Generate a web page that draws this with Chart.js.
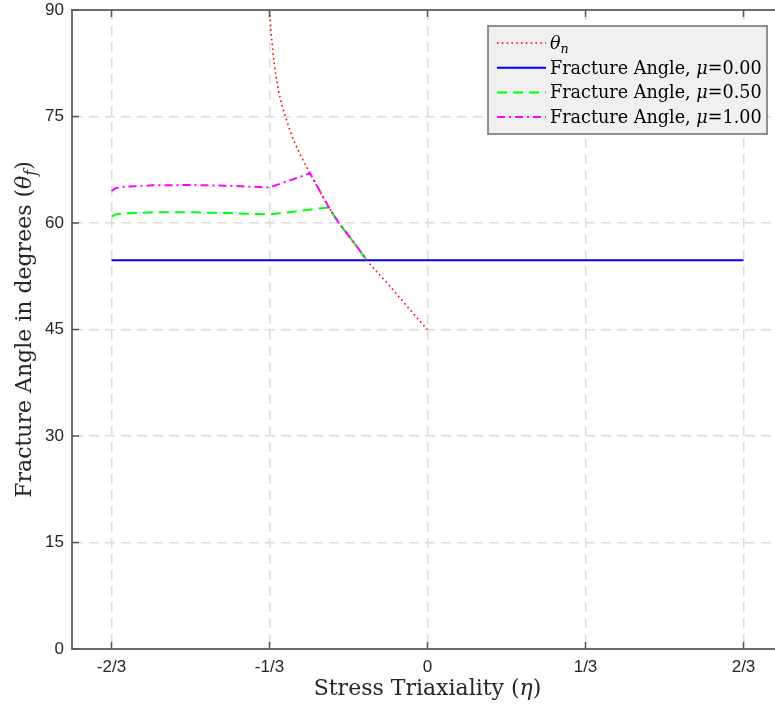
<!DOCTYPE html>
<html>
<head>
<meta charset="utf-8">
<script src="https://cdn.jsdelivr.net/npm/chart.js@4.4.1/dist/chart.umd.min.js"></script>
<style>
html, body { margin: 0; padding: 0; background: #fff; overflow: hidden; }
#wrap { position: relative; width: 775px; height: 704px; }
</style>
</head>
<body>
<div id="wrap"><canvas id="graphe" width="775" height="704"></canvas></div>
<script>
// Axes (le cadre de droite sort de l'image dans l'original)
var xMin = -0.75, xMax = 0.7331;
var xTickValues = [-2/3, -1/3, 0, 1/3, 2/3];
var xTickLabels = ['-2/3', '-1/3', '0', '1/3', '2/3'];
var yTickValues = [0, 15, 30, 45, 60, 75, 90];
var xTitle = 'Stress Triaxiality (η)';
var yTitle = 'Fracture Angle in degrees (θ_f)';

// Series
var thetaN_eta = [-0.3333, -0.3302, -0.3266, -0.3196, -0.3097, -0.2970, -0.2831, -0.2654, -0.2479, -0.2089, -0.1870, -0.1582, -0.1272, -0.0780, -0.0359, 0];
var thetaN_deg = [90, 87.0, 84.4, 80.6, 77.3, 74.4, 71.8, 69.2, 67.0, 62.3, 60.0, 57.5, 54.7, 51.0, 47.7, 45.0];

var mu0_eta = [-2/3, 2/3];
var mu0_deg = [54.74, 54.74];

var mu05_eta = [-2/3, -0.658, -0.64, -0.58, -0.50, -0.42, -1/3, -0.2089, -0.1870, -0.1582, -0.1272];
var mu05_deg = [60.9, 61.2, 61.35, 61.5, 61.5, 61.4, 61.2, 62.2, 60.0, 57.5, 54.7];

var mu1_eta = [-2/3, -0.658, -0.64, -0.58, -0.50, -0.42, -1/3, -0.2479, -0.2089, -0.1870, -0.1582, -0.1272];
var mu1_deg = [64.5, 64.9, 65.1, 65.3, 65.35, 65.25, 65.0, 67.0, 62.3, 60.0, 57.5, 54.7];

var seriesLabels = ['θ_n', 'Fracture Angle, μ=0.00', 'Fracture Angle, μ=0.50', 'Fracture Angle, μ=1.00'];

var S_serif = '"DejaVu Serif", "Liberation Serif", serif';
var GREEK = 'θμη';

function F_zip(V_x, V_y){
    var V_out = [];
    for (var i = 0; i < V_x.length; i++){ V_out.push({x: V_x[i], y: V_y[i]}); }
    return V_out;
}

// Texte avec lettres grecques en italique et indice apres '_'
function F_richParts(S_txt){
    var V_parts = [];
    for (var i = 0; i < S_txt.length; i++){
        var c = S_txt[i];
        if (c === '_'){
            V_parts.push({t: S_txt[i + 1], it: true, sub: true});
            i++;
        } else if (GREEK.indexOf(c) >= 0){
            V_parts.push({t: c, it: true, sub: false});
        } else {
            var last = V_parts[V_parts.length - 1];
            if (last && !last.it) last.t += c;
            else V_parts.push({t: c, it: false, sub: false});
        }
    }
    return V_parts;
}

function F_font(O_p, I_size){
    var I_s = O_p.sub ? I_size * 0.72 : I_size;
    return (O_p.it ? 'italic ' : '') + I_s + 'px ' + S_serif;
}

function F_drawRich(ctx, S_txt, x, y, I_size, S_align){
    var V_parts = F_richParts(S_txt);
    var I_w = 0;
    V_parts.forEach(function(p){ ctx.font = F_font(p, I_size); p.w = ctx.measureText(p.t).width; I_w += p.w; });
    var I_x = S_align === 'center' ? x - I_w / 2 : x;
    ctx.textBaseline = 'alphabetic';
    ctx.textAlign = 'left';
    V_parts.forEach(function(p){
        ctx.font = F_font(p, I_size);
        ctx.fillText(p.t, I_x, y + (p.sub ? I_size * 0.22 : 0));
        I_x += p.w;
    });
}

var P_cadre = {
    id: 'cadre',
    afterDatasetsDraw: function(chart){
        var ctx = chart.ctx, a = chart.chartArea;
        var sx = chart.scales.x, sy = chart.scales.y;
        ctx.save();
        ctx.strokeStyle = '#6e6e6e';
        ctx.lineWidth = 2;
        ctx.beginPath();
        ctx.moveTo(a.left, a.top); ctx.lineTo(a.right, a.top);
        ctx.stroke();

        // petites graduations vers l'interieur
        ctx.lineWidth = 1.5;
        ctx.strokeStyle = '#555';
        ctx.beginPath();
        xTickValues.forEach(function(v){
            var px = sx.getPixelForValue(v);
            ctx.moveTo(px, a.bottom); ctx.lineTo(px, a.bottom - 7);
            ctx.moveTo(px, a.top); ctx.lineTo(px, a.top + 7);
        });
        yTickValues.forEach(function(v){
            var py = sy.getPixelForValue(v);
            ctx.moveTo(a.left, py); ctx.lineTo(a.left + 7, py);
        });
        ctx.stroke();
        ctx.restore();
    },
    afterDraw: function(chart){
        var ctx = chart.ctx, a = chart.chartArea;
        ctx.save();
        ctx.fillStyle = '#262626';

        // titres des axes
        F_drawRich(ctx, xTitle, chart.scales.x.getPixelForValue(0), 695, 22, 'center');
        ctx.save();
        ctx.translate(31, (a.top + a.bottom) / 2);
        ctx.rotate(-Math.PI / 2);
        F_drawRich(ctx, yTitle, 0, 0, 22, 'center');
        ctx.restore();

        // legende
        var I_lx = 488, I_ly = 26, I_lw = 279, I_lh = 108;
        ctx.fillStyle = '#f0f0f0';
        ctx.fillRect(I_lx, I_ly, I_lw, I_lh);
        ctx.strokeStyle = '#6e6e6e';
        ctx.lineWidth = 1.5;
        ctx.strokeRect(I_lx, I_ly, I_lw, I_lh);

        chart.data.datasets.forEach(function(ds, i){
            var I_y = 43 + i * 24.7;
            ctx.save();
            ctx.strokeStyle = ds.borderColor;
            ctx.lineWidth = ds.borderWidth;
            ctx.setLineDash(ds.borderDash || []);
            ctx.beginPath();
            ctx.moveTo(I_lx + 9, I_y); ctx.lineTo(I_lx + 58, I_y);
            ctx.stroke();
            ctx.restore();
            ctx.fillStyle = '#000';
            F_drawRich(ctx, seriesLabels[i], I_lx + 62, I_y + 6, 17.6, 'left');
        });
        ctx.restore();
    }
};

var O_ctx = document.getElementById('graphe').getContext('2d');

var O_config = {
    type: 'line',
    data: {
        datasets: [
            {
                label: seriesLabels[0],
                data: F_zip(thetaN_eta, thetaN_deg),
                borderColor: '#ff0000',
                borderWidth: 1.6,
                borderDash: [1.6, 3.2],
                cubicInterpolationMode: 'monotone',
                order: 4
            },
            {
                label: seriesLabels[1],
                data: F_zip(mu0_eta, mu0_deg),
                borderColor: '#0000ff',
                borderWidth: 2,
                order: 3
            },
            {
                label: seriesLabels[2],
                data: F_zip(mu05_eta, mu05_deg),
                borderColor: '#00ff00',
                borderWidth: 2,
                borderDash: [10, 6],
                order: 2
            },
            {
                label: seriesLabels[3],
                data: F_zip(mu1_eta, mu1_deg),
                borderColor: '#ff00ff',
                borderWidth: 2,
                borderDash: [8, 4, 2, 4],
                order: 1
            }
        ]
    },
    options: {
        responsive: false,
        animation: false,
        devicePixelRatio: 1,
        layout: { padding: { top: 10, left: 0, right: 0, bottom: 0 } },
        elements: { point: { radius: 0 }, line: { tension: 0, fill: false } },
        plugins: {
            legend: { display: false },
            tooltip: { enabled: false }
        },
        scales: {
            x: {
                type: 'linear',
                min: xMin,
                max: xMax,
                afterBuildTicks: function(s){ s.ticks = xTickValues.map(function(v){ return {value: v}; }); },
                afterFit: function(s){ s.height = 55; s.paddingLeft = 0; s.paddingRight = 0; },
                ticks: {
                    autoSkip: false,
                    maxRotation: 0,
                    padding: 8,
                    color: '#262626',
                    font: { family: '"Liberation Sans", Arial, sans-serif', size: 17 },
                    callback: function(v, i){ return xTickLabels[i]; }
                },
                grid: { color: '#dcdcdc', lineWidth: 1.5, drawTicks: false },
                border: { display: true, color: '#6e6e6e', width: 2, dash: [10, 6] }
            },
            y: {
                min: 0,
                max: 90,
                afterBuildTicks: function(s){ s.ticks = yTickValues.map(function(v){ return {value: v}; }); },
                afterFit: function(s){ s.width = 72; s.paddingTop = 0; s.paddingBottom = 0; },
                ticks: {
                    autoSkip: false,
                    padding: 8,
                    color: '#262626',
                    font: { family: '"Liberation Sans", Arial, sans-serif', size: 17 }
                },
                grid: { color: '#dcdcdc', lineWidth: 1.5, drawTicks: false },
                border: { display: true, color: '#6e6e6e', width: 2, dash: [10, 6] }
            }
        }
    },
    plugins: [P_cadre]
};

var O_graphe = new Chart(O_ctx, O_config);
</script>
</body>
</html>
